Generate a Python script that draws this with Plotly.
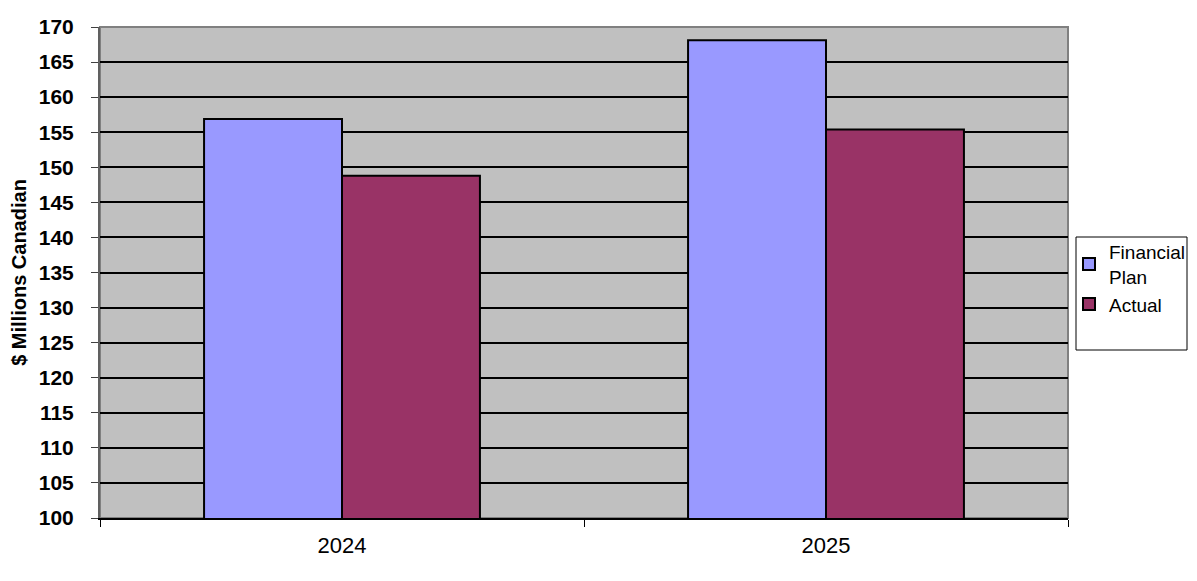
import plotly.graph_objects as go

# data
years = ['2024', '2025']
financial_plan = [156.9, 168.1]
actual = [148.8, 155.4]

# colors
plan_color = '#9999FF'
actual_color = '#993366'
plot_bg = '#C0C0C0'

fig = go.Figure()
fig.add_trace(go.Bar(x=years, y=financial_plan, name='Financial<br>Plan',
                     marker=dict(color=plan_color, line=dict(color='black', width=2))))
fig.add_trace(go.Bar(x=years, y=actual, name='Actual',
                     marker=dict(color=actual_color, line=dict(color='black', width=2))))

# page body has an 8px margin on every side, so size the figure to fit the window
fig.update_layout(
    width=1181, height=565,
    margin=dict(l=92, r=121, t=19, b=55),
    paper_bgcolor='white',
    plot_bgcolor=plot_bg,
    barmode='group',
    bargap=0.43,
    bargroupgap=0,
    font=dict(family='Arial, Liberation Sans', color='black'),
    xaxis=dict(
        tickson='boundaries', ticks='outside', ticklen=7, tickcolor='black',
        showline=True, linecolor='black', linewidth=2,
        tickfont=dict(size=22), ticklabelstandoff=7, showgrid=False,
        automargin=False,
    ),
    yaxis=dict(
        range=[100, 170], dtick=5, ticks='outside', ticklen=7, tickcolor='#404040',
        showline=True, linecolor='#606060', linewidth=2,
        showgrid=True, gridcolor='black', gridwidth=1.5,
        tickfont=dict(size=21, weight='bold'), ticklabelstandoff=13,
        title=dict(text='$ Millions Canadian', font=dict(size=20, weight='bold'), standoff=7),
        zeroline=False, automargin=False,
    ),
    # container-placed legend; keep it inside the right margin so it does not shrink the plot
    legend=dict(
        xref='container', yref='container',
        x=1061 / 1181, y=0.602, xanchor='left', yanchor='top',
        bgcolor='rgba(0,0,0,0)', borderwidth=0,
        font=dict(size=19), tracegroupgap=4,
        itemwidth=30,
    ),
    showlegend=True,
)

# plot area border and legend frame
fig.add_shape(type='rect', xref='paper', yref='paper', x0=0, x1=1, y0=0, y1=1,
              line=dict(color='#808080', width=2), layer='below')
fig.add_shape(type='rect', xref='paper', yref='paper',
              x0=(1076 - 100) / 968, x1=(1187 - 100) / 968,
              y0=(518 - 350) / 491, y1=(518 - 237) / 491,
              line=dict(color='black', width=1), fillcolor='white', layer='below')

fig.write_html('out.html')
